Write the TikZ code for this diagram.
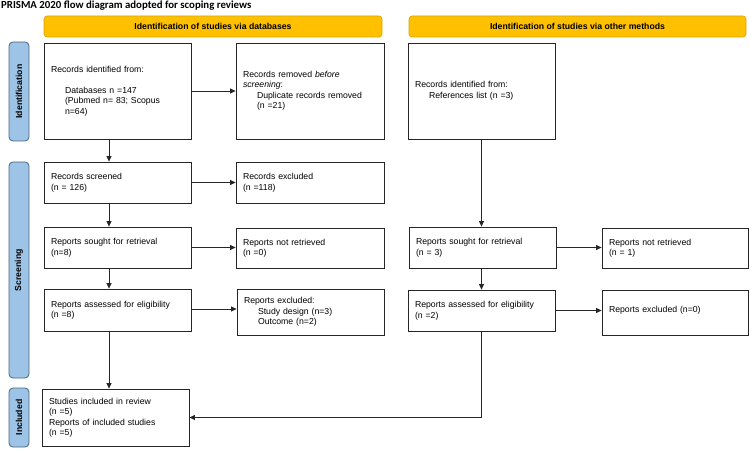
\documentclass[tikz,border=0pt]{standalone}
\usepackage{fontspec}
\setmainfont{Liberation Sans}
\newfontfamily\titlefont{Carlito}
\usetikzlibrary{arrows.meta}
\definecolor{hdryellow}{HTML}{FFC000}
\definecolor{hdredge}{HTML}{D9A400}
\definecolor{sideblue}{HTML}{9DC3E6}
\definecolor{sideedge}{HTML}{4A6580}
\tikzset{
  box/.style={draw=black!85, line width=0.8pt, rectangle, align=left, inner xsep=7pt, inner ysep=0pt,
    font=\fontsize{8.7}{10.5}\selectfont},
  hdr/.style={draw=hdredge, fill=hdryellow, rounded corners=3pt, line width=0.6pt, minimum height=21pt,
    inner sep=0pt, font=\fontsize{8.7}{10.5}\selectfont\bfseries},
  side/.style={draw=sideedge, fill=sideblue, rounded corners=4pt, line width=0.8pt, rotate=90, minimum height=20pt,
    inner sep=0pt, font=\fontsize{8.7}{10.5}\selectfont\bfseries},
  arr/.style={-{Triangle[length=5.5pt,width=5pt]}, line width=0.8pt, draw=black!85},
  ln/.style={line width=0.8pt, draw=black!85}
}
\newcommand{\ind}{\hspace*{14pt}}
\begin{document}
\begin{tikzpicture}[x=1pt,y=-1pt]
\useasboundingbox (0,0) rectangle (750,449);
% title
\node[anchor=west, inner sep=0pt, font=\titlefont\fontsize{10.8}{12}\selectfont\bfseries] (title) at (1,6) {PRISMA 2020 flow diagram adopted for scoping reviews};
% headers
\node[hdr, minimum width=338pt] (h1) at (213,26.5) {Identification of studies via databases};
\node[hdr, minimum width=337pt] (h2) at (577.5,26.5) {Identification of studies via other methods};
% side bars
\node[side, minimum width=99pt] (sid) at (19,91.5) {Identification};
\node[side, minimum width=216pt] (sscr) at (19,270) {Screening};
\node[side, minimum width=59pt] (sinc) at (19,417.5) {Included};
% boxes
\node[box, minimum width=147pt, minimum height=96pt, text width=133pt] (id1) at (117.5,91)
  {Records identified from:\\[10.5pt]\ind Databases n =147\\\ind (Pubmed n= 83; Scopus\\\ind n=64)};
\node[box, minimum width=148pt, minimum height=96pt, text width=134pt] (rem) at (310,91)
  {Records removed \textit{before}\\\textit{screening}:\\\ind Duplicate records removed\\\ind (n =21)};
\node[box, minimum width=147pt, minimum height=96pt, text width=133pt] (oid) at (481.5,91)
  {Records identified from:\\\ind References list (n =3)};
\node[box, minimum width=147pt, minimum height=41pt, text width=133pt] (scr) at (117.5,182.5)
  {Records screened\\(n = 126)};
\node[box, minimum width=148pt, minimum height=41pt, text width=134pt] (exc) at (310,182.5)
  {Records excluded\\(n =118)};
\node[box, minimum width=147pt, minimum height=41pt, text width=133pt] (sought) at (117.5,247.5)
  {Reports sought for retrieval\\(n=8)};
\node[box, minimum width=148pt, minimum height=40pt, text width=134pt] (notret) at (310,248)
  {Reports not retrieved\\(n =0)};
\node[box, minimum width=147pt, minimum height=41pt, text width=133pt] (osought) at (482.5,247.5)
  {Reports sought for retrieval\\(n = 3)};
\node[box, minimum width=146pt, minimum height=40pt, text width=132pt] (onotret) at (675,248)
  {Reports not retrieved\\(n = 1)};
\node[box, minimum width=147pt, minimum height=42pt, text width=133pt] (assess) at (117.5,310)
  {Reports assessed for eligibility\\(n =8)};
\node[box, minimum width=147pt, minimum height=46pt, text width=133pt] (rexc) at (310.5,312)
  {Reports excluded:\\\ind Study design (n=3)\\\ind Outcome (n=2)};
\node[box, minimum width=147pt, minimum height=41pt, text width=133pt] (oassess) at (481.5,310.5)
  {Reports assessed for eligibility\\(n =2)};
\node[box, minimum width=146pt, minimum height=45pt, text width=132pt] (oexc) at (675,312.5)
  {\raisebox{7pt}{Reports excluded (n=0)}};
\node[box, minimum width=147pt, minimum height=57pt, text width=133pt] (incl) at (115.5,417.5)
  {Studies included in review\\(n =5)\\Reports of included studies\\(n =5)};
% connectors
\draw[arr] ([xshift=-8.5pt]id1.south) -- ([xshift=-8.5pt]scr.north);
\draw[arr] ([xshift=-8.5pt]scr.south) -- ([xshift=-8.5pt]sought.north);
\draw[arr] ([xshift=-8.5pt]sought.south) -- ([xshift=-8.5pt]assess.north);
\draw[arr] ([xshift=-8.5pt]assess.south) -- ([xshift=-6.5pt]incl.north);
\draw[arr] (id1.east) -- (rem.west);
\draw[arr] (scr.east) -- (exc.west);
\draw[arr] (sought.east) -- (sought.east -| notret.west);
\draw[arr] ([yshift=1pt]assess.east) -- ([yshift=1pt]assess.east -| rexc.west);
\draw[arr] (oid.south) -- (oid.south |- osought.north);
\draw[arr] (osought.east) -- (osought.east -| onotret.west);
\draw[arr] ([xshift=-1pt]osought.south) -- (oassess.north);
\draw[arr] (oassess.east) -- (oassess.east -| oexc.west);
\coordinate (bend) at (oassess.south |- incl.east);
\draw[arr] (oassess.south) -- (bend) -- (incl.east);
\end{tikzpicture}
\end{document}
